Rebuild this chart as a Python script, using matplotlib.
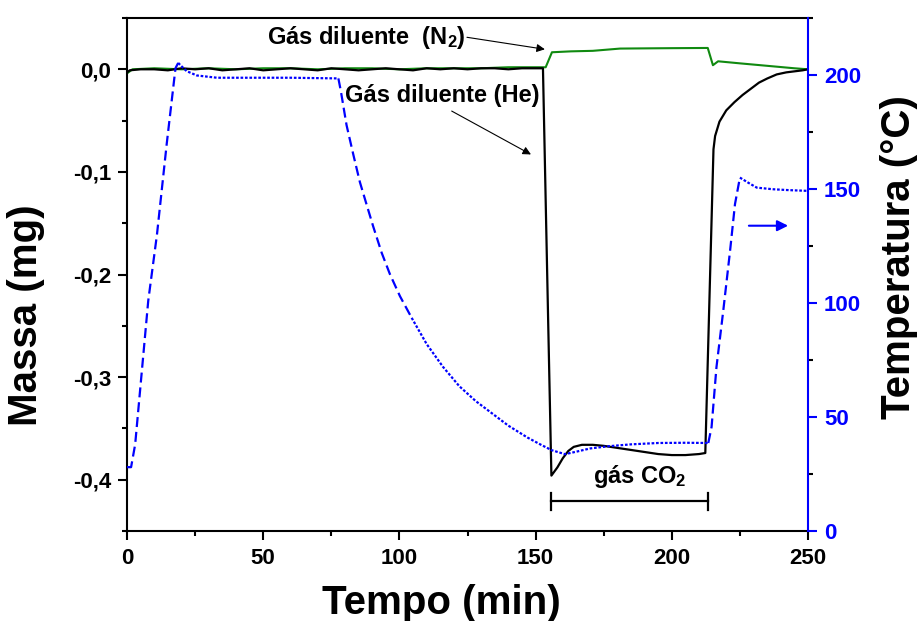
import matplotlib
matplotlib.use("Agg")
import matplotlib.pyplot as plt
from matplotlib.ticker import MultipleLocator, FuncFormatter
import numpy as np

plt.rcParams['font.family'] = ['Liberation Sans', 'DejaVu Sans']
plt.rcParams['font.weight'] = 'bold'
plt.rcParams['mathtext.fontset'] = 'custom'
plt.rcParams['mathtext.rm'] = 'Liberation Sans:bold'
plt.rcParams['mathtext.it'] = 'Liberation Sans:bold'
plt.rcParams['mathtext.bf'] = 'Liberation Sans:bold'
plt.rcParams['mathtext.default'] = 'rm'

# ---------------- data ----------------
# mass, helium diluent (black)
t_he = [0, 1, 5, 10, 15, 20, 25, 30, 35, 40, 45, 50, 55, 60, 65, 70, 75, 80, 85,
        90, 95, 100, 105, 110, 115, 120, 125, 130, 135, 140, 145, 150, 152.7,
        154.6, 155.8, 158, 160, 162, 164, 167, 171, 175, 180, 185, 190, 195,
        200, 205, 210, 212.3, 215.3, 215.9, 217.5, 220, 223, 226, 229, 232,
        235, 238.5, 242, 245, 248, 250]
m_he = [-0.003, -0.001, 0.0, 0.0, -0.001, 0.001, 0.0, 0.001, -0.001, 0.0, 0.001,
        -0.001, 0.0, 0.001, 0.0, -0.001, 0.001, 0.0, -0.001, 0.0, 0.001, 0.0,
        -0.001, 0.001, 0.0, 0.001, 0.0, 0.001, 0.001, 0.0, 0.001, 0.001, 0.001,
        -0.244, -0.396, -0.388, -0.379, -0.372, -0.368, -0.366, -0.366, -0.367,
        -0.369, -0.371, -0.373, -0.375, -0.376, -0.376, -0.375, -0.374, -0.078,
        -0.065, -0.051, -0.040, -0.032, -0.025, -0.019, -0.013, -0.009, -0.005,
        -0.003, -0.002, -0.001, 0.0]

# mass, nitrogen diluent (green)
t_n2 = [0, 2, 10, 20, 30, 40, 50, 60, 70, 80, 90, 100, 110, 120, 130, 140, 150,
        153.7, 156, 163, 171, 181, 190, 200, 213.2, 215.1, 217, 225, 235, 245, 250]
m_n2 = [-0.004, 0.0, 0.001, 0.0, 0.001, 0.0, 0.001, 0.001, 0.0, 0.001, 0.001,
        0.0, 0.001, 0.001, 0.001, 0.002, 0.002, 0.002, 0.0166, 0.0175, 0.018,
        0.0202, 0.0204, 0.0206, 0.0208, 0.004, 0.0078, 0.0058, 0.0034, 0.001, 0.0]

# temperature (blue)
t_temp = [0, 1.5, 3.0, 7.8, 11, 14.6, 17.8, 18.8, 20.3, 21.9, 25.6, 33, 45, 60,
          77.6, 78.5, 80.6, 83.1, 85.5, 88, 90.4, 93.5, 96.5, 100.2, 104.5, 110,
          116, 122, 128, 134, 140, 147, 152, 156, 160.8, 165, 170, 177, 185, 195,
          205, 213.4, 214.6, 216.4, 218.9, 221.4, 223.2, 225, 228, 231.2, 237,
          243, 249.5]
T_temp = [28, 28, 38, 101, 130, 170, 203, 205.3, 203.5, 201.7, 199.8, 198.8,
          198.8, 198.8, 198.5, 193, 178, 165, 153, 143, 133.5, 122, 112.7, 103,
          93.5, 82, 72, 63.5, 57, 51.6, 46.2, 41, 37.8, 35.4, 33.7, 34.8, 36.2,
          37.2, 38.0, 38.6, 38.7, 38.6, 45.6, 71.9, 96.7, 123, 143.4, 155, 152.8,
          150.6, 149.9, 149.5, 149.2]

x_ticks = [0, 50, 100, 150, 200, 250]
m_ticks = [0.0, -0.1, -0.2, -0.3, -0.4]
T_ticks = [0, 50, 100, 150, 200]

# ---------------- figure ----------------
fig = plt.figure(figsize=(9.21, 6.21), dpi=100)
ax = fig.add_axes([127/921, 1-531/621, (808-127)/921, (531-18)/621])
ax2 = ax.twinx()

BLUE = '#0000FF'
GREEN = '#108A10'

ax.plot(t_n2, m_n2, color=GREEN, lw=1.5, zorder=2)
ax.plot(t_he, m_he, color='black', lw=1.6, zorder=3)

# temperature: dashed on steep stretches, dotted on slow ones (style only)
tt = np.array(t_temp)
TT = np.array(T_temp)
steep = [(0, 18.8), (77.6, 104.5), (213.4, 225)]
mask_steep = np.zeros(len(tt), bool)
for a, b in steep:
    mask_steep |= (tt >= a) & (tt <= b)
i = 0
n = len(tt)
while i < n - 1:
    kind = mask_steep[i] and mask_steep[i + 1]
    j = i + 1
    while j < n - 1 and (mask_steep[j] and mask_steep[j + 1]) == kind:
        j += 1
    ls = (0, (4.5, 2.2)) if kind else (0, (1.2, 0.8))
    ax2.plot(tt[i:j + 1], TT[i:j + 1], color=BLUE, lw=1.6, linestyle=ls,
             dash_capstyle='butt', dash_joinstyle='round')
    i = j

ax.set_xlim(0, 250)
ax.set_ylim(-0.45, 0.05)
ax2.set_ylim(0, 225)

ax.set_xticks(x_ticks)
ax.xaxis.set_minor_locator(MultipleLocator(25))
ax.set_yticks(m_ticks)
ax.yaxis.set_minor_locator(MultipleLocator(0.05))
ax.yaxis.set_major_formatter(FuncFormatter(lambda v, p: ('%.1f' % v).replace('.', ',')))
ax2.set_yticks(T_ticks)
ax2.yaxis.set_minor_locator(MultipleLocator(25))

for a in (ax, ax2):
    a.tick_params(which='major', length=6.5, width=1.5, direction='out', labelsize=16)
    a.tick_params(which='minor', length=3.5, width=1.5, direction='out')
ax.tick_params(axis='x', pad=6)
ax.tick_params(axis='y', pad=5)
ax2.tick_params(axis='y', colors=BLUE, pad=5)
for lab in ax.get_xticklabels() + ax.get_yticklabels() + ax2.get_yticklabels():
    lab.set_fontweight('bold')

for s in ('left', 'bottom', 'top'):
    ax.spines[s].set_linewidth(1.5)
    ax2.spines[s].set_linewidth(1.5)
ax.spines['right'].set_visible(False)
ax2.spines['left'].set_visible(False)
ax2.spines['bottom'].set_visible(False)
ax2.spines['top'].set_visible(False)
ax2.spines['right'].set_color(BLUE)
ax2.spines['right'].set_linewidth(1.5)

# axis labels
fig.text(26/921, 1-315/621, 'Massa (mg)', rotation=90, ha='center', va='center',
         fontsize=29, fontweight='bold')
fig.text(441/921, 1-603/621, 'Tempo (min)', ha='center', va='center',
         fontsize=29, fontweight='bold')
fig.text(899/921, 1-257/621, 'Temperatura (°C)', rotation=90, ha='center',
         va='center', fontsize=29, fontweight='bold')

# annotations
ax.text(51.4, 0.0244, 'Gás diluente  (N$_2$)', fontsize=17, fontweight='bold',
        ha='left', va='baseline', zorder=5)
ax.annotate('', xy=(153.4, 0.0195), xytext=(124.8, 0.0312),
            arrowprops=dict(arrowstyle='-|>', color='black', lw=0.8,
                            mutation_scale=12, shrinkA=0, shrinkB=0))
ax.text(80, -0.032, 'Gás diluente (He)', fontsize=17, fontweight='bold',
        ha='left', va='baseline', zorder=5)
ax.annotate('', xy=(148.3, -0.083), xytext=(119.2, -0.0407),
            arrowprops=dict(arrowstyle='-|>', color='black', lw=0.8,
                            mutation_scale=12, shrinkA=0, shrinkB=0))
ax.text(171.1, -0.403, 'gás CO$_2$', fontsize=17, fontweight='bold',
        ha='left', va='baseline', zorder=5)
# CO2 bracket
ax.plot([155.7, 213.3], [-0.421, -0.421], color='black', lw=1.6)
ax.plot([155.7, 155.7], [-0.413, -0.430], color='black', lw=1.6)
ax.plot([213.3, 213.3], [-0.413, -0.430], color='black', lw=1.6)

# blue arrow pointing to the temperature axis
ax2.annotate('', xy=(242.7, 133.9), xytext=(228.3, 133.9),
             arrowprops=dict(arrowstyle='-|>', color=BLUE, lw=1.5,
                             mutation_scale=16, shrinkA=0, shrinkB=0))

fig.savefig('out.png', dpi=100)
